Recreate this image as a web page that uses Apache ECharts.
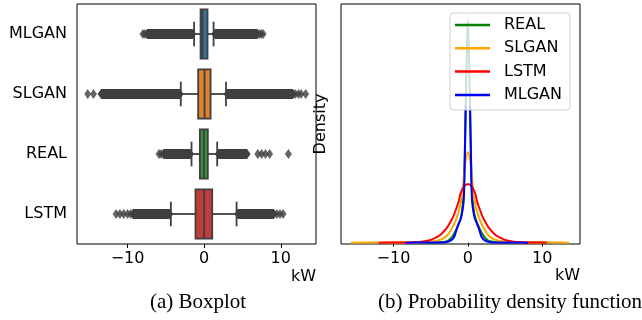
<!DOCTYPE html>
<html>
<head>
<meta charset="utf-8">
<script src="https://cdn.jsdelivr.net/npm/echarts@6/dist/echarts.min.js"></script>
<style>
  html, body { margin: 0; padding: 0; background: #fff; }
  #chart { width: 642px; height: 320px; }
</style>
</head>
<body>
<div id="chart"></div>
<script>
// ---- Boxplot data (kW) ----
const categories = ['MLGAN', 'SLGAN', 'REAL', 'LSTM'];
// [whisker low, Q1, median, Q3, whisker high]
const statsMLGAN = [-1.31, -0.47, -0.22, 0.44, 1.23];
const statsSLGAN = [-3.05, -0.78, 0.05, 0.84, 2.85];
const statsREAL  = [-1.65, -0.56, -0.04, 0.48, 1.70];
const statsLSTM  = [-4.35, -1.13, 0.00, 1.05, 4.23];
// Runs of densely packed outliers [from, to]
const runsMLGAN = [[-7.45, -1.5], [1.4, 6.95]];
const runsSLGAN = [[-13.45, -3.15], [3.0, 11.6]];
const runsREAL  = [[-5.3, -1.8], [1.85, 5.6]];
const runsLSTM  = [[-9.3, -4.5], [4.4, 9.1]];
// Isolated outliers
const fliersMLGAN = [-8.0, -7.75, 7.2, 7.45, 7.7];
const fliersSLGAN = [-15.2, -14.45, 11.9, 12.3, 12.65, 13.25];
const fliersREAL  = [-5.9, -5.6, 7.0, 7.5, 8.0, 8.55, 11.0];
const fliersLSTM  = [-11.5, -11.0, -10.5, -10.0, -9.6, 9.5, 9.9, 10.3];

// ---- Density curves (kW, density) ----
const realX = [-6.4, -5, -4, -3, -2.5, -2, -1.6, -1.2, -0.9, -0.6, -0.45, -0.3, -0.15, 0, 0.15, 0.3, 0.45, 0.6, 0.9, 1.2, 1.6, 2, 2.5, 3, 4, 5, 7, 9, 11.2];
const realY = [0, 0.0003, 0.001, 0.004, 0.012, 0.03, 0.055, 0.085, 0.115, 0.2, 0.34, 0.58, 0.82, 0.97, 0.82, 0.58, 0.34, 0.2, 0.12, 0.09, 0.06, 0.035, 0.015, 0.006, 0.0015, 0.0005, 0.0003, 0.0002, 0];
const slganX = [-15.7, -12, -9, -7, -5, -4, -3.2, -2.6, -2.1, -1.6, -1.2, -0.9, -0.6, -0.3, 0, 0.3, 0.6, 0.9, 1.2, 1.6, 2.1, 2.6, 3.2, 4, 5, 7, 9, 12, 13.6];
const slganY = [0, 0.0002, 0.0006, 0.0015, 0.005, 0.01, 0.02, 0.038, 0.066, 0.1, 0.14, 0.184, 0.27, 0.36, 0.396, 0.36, 0.27, 0.184, 0.14, 0.1, 0.066, 0.038, 0.02, 0.01, 0.005, 0.0015, 0.0006, 0.0002, 0];
const lstmX = [-12, -9, -7, -6, -5, -4, -3.5, -2.8, -2.5, -2, -1.5, -1.2, -1, -0.5, 0, 0.5, 1, 1.2, 1.5, 2, 2.5, 2.8, 3.5, 4, 5, 6, 7, 9, 10.6];
const lstmY = [0, 0.0005, 0.002, 0.005, 0.012, 0.027, 0.04, 0.066, 0.082, 0.112, 0.155, 0.184, 0.215, 0.246, 0.257, 0.246, 0.215, 0.184, 0.155, 0.112, 0.082, 0.066, 0.04, 0.027, 0.012, 0.005, 0.002, 0.0005, 0];
const mlganX = [-8.4, -6, -4, -3, -2.5, -2.1, -1.8, -1.47, -1.2, -1, -0.8, -0.56, -0.45, -0.3, -0.15, 0, 0.15, 0.3, 0.45, 0.56, 0.8, 1, 1.2, 1.47, 1.8, 2.1, 2.5, 3, 4, 6, 8.1];
const mlganY = [0, 0.0002, 0.0006, 0.002, 0.006, 0.014, 0.028, 0.062, 0.085, 0.1, 0.125, 0.184, 0.3, 0.58, 0.84, 1.0, 0.84, 0.58, 0.3, 0.184, 0.125, 0.1, 0.085, 0.062, 0.028, 0.014, 0.006, 0.002, 0.0006, 0.0002, 0];

const xTicks = [-10, 0, 10];

// ---- Styling ----
const boxFill = ['#3274a1', '#e1812c', '#3a923a', '#c03d3e'];
const kdeColors = { REAL: '#008000', SLGAN: '#ffa500', LSTM: '#ff0000', MLGAN: '#0000ff' };
const ink = '#3f3f3f';
const FONT = 'DejaVu Sans';

const allStats = [statsMLGAN, statsSLGAN, statsREAL, statsLSTM];
const allRuns = [runsMLGAN, runsSLGAN, runsREAL, runsLSTM];
const allFliers = [fliersMLGAN, fliersSLGAN, fliersREAL, fliersLSTM];

const boxData = allStats.map((s, i) => [i].concat(s));
const runData = [];
allRuns.forEach((runs, i) => runs.forEach(r => runData.push([i, r[0], r[1]])));
const flierData = [];
allFliers.forEach((f, i) => f.forEach(v => flierData.push([v, i])));

const pairs = (xs, ys) => xs.map((x, i) => [x, ys[i]]);
const minusFmt = v => String(v).replace('-', '\u2212');

function renderBox(params, api) {
  const cat = api.value(0);
  const lo = api.coord([api.value(1), cat]);
  const q1 = api.coord([api.value(2), cat]);
  const md = api.coord([api.value(3), cat]);
  const q3 = api.coord([api.value(4), cat]);
  const hi = api.coord([api.value(5), cat]);
  const band = api.size([0, 1])[1];
  const h = band * 0.41;
  const cap = h / 2;
  const cy = md[1];
  const ls = { stroke: ink, lineWidth: 1.8 };
  return {
    type: 'group',
    children: [
      { type: 'line', shape: { x1: lo[0], y1: cy, x2: q1[0], y2: cy }, style: ls },
      { type: 'line', shape: { x1: q3[0], y1: cy, x2: hi[0], y2: cy }, style: ls },
      { type: 'line', shape: { x1: lo[0], y1: cy - cap, x2: lo[0], y2: cy + cap }, style: ls },
      { type: 'line', shape: { x1: hi[0], y1: cy - cap, x2: hi[0], y2: cy + cap }, style: ls },
      { type: 'rect', shape: { x: q1[0], y: cy - h, width: q3[0] - q1[0], height: 2 * h },
        style: { fill: boxFill[params.dataIndex], stroke: ink, lineWidth: 1.8 } },
      { type: 'line', shape: { x1: md[0], y1: cy - h, x2: md[0], y2: cy + h }, style: ls }
    ]
  };
}

function renderRun(params, api) {
  const cat = api.value(0);
  const a = api.coord([api.value(1), cat]);
  const b = api.coord([api.value(2), cat]);
  const cy = a[1], hh = 5, tip = 3.5;
  return {
    type: 'polygon',
    shape: { points: [[a[0] - tip, cy], [a[0], cy - hh], [b[0], cy - hh], [b[0] + tip, cy], [b[0], cy + hh], [a[0], cy + hh]] },
    style: { fill: ink }
  };
}

const kdeSeries = (name, xs, ys, color) => ({
  name, type: 'line', xAxisIndex: 1, yAxisIndex: 1,
  data: pairs(xs, ys), showSymbol: false, symbol: 'none', smooth: 0.3,
  lineStyle: { color: color || kdeColors[name], width: 2 }, itemStyle: { color: kdeColors[name] },
  silent: true
});

// The very tip of the sharpest peak fades out (its two flanks merge into a faint band)
const mlganStroke = new echarts.graphic.LinearGradient(0, 0, 0, 1, [
  { offset: 0, color: 'rgba(0,0,255,0.2)' },
  { offset: 0.4, color: 'rgba(0,0,255,0.2)' },
  { offset: 0.4, color: '#0000ff' },
  { offset: 1, color: '#0000ff' }
]);

const axisText = { fontFamily: FONT, fontSize: 16, color: '#000' };
const captionText = { fontFamily: 'Liberation Serif', fontSize: 21, fontWeight: 'normal', color: '#000' };

const chart = echarts.init(document.getElementById('chart'), null, { renderer: 'canvas' });
chart.setOption({
  animation: false,
  backgroundColor: '#fff',
  textStyle: { fontFamily: FONT },
  title: [
    { text: '(a) Boxplot', left: 193, top: 287, textAlign: 'center', textStyle: captionText },
    { text: '(b) Probability density function', left: 505, top: 287, textAlign: 'center', textStyle: captionText }
  ],
  grid: [
    { left: 77, right: 326, top: 4, bottom: 76, show: true, borderColor: '#000', borderWidth: 1, backgroundColor: '#fff' },
    { left: 341, right: 62, top: 4, bottom: 76, show: true, borderColor: '#000', borderWidth: 1, backgroundColor: '#fff' }
  ],
  xAxis: [
    { type: 'value', gridIndex: 0, min: -16.6, max: 14.6,
      axisLine: { show: false }, splitLine: { show: false },
      axisTick: { show: true, length: 4, lineStyle: { color: '#000' }, customValues: xTicks },
      axisLabel: Object.assign({ margin: 7, customValues: xTicks, formatter: minusFmt }, axisText),
      name: 'kW', nameLocation: 'end', nameGap: 0,
      nameTextStyle: Object.assign({ align: 'right', verticalAlign: 'top', padding: [25, 0, 0, 0] }, axisText) },
    { type: 'value', gridIndex: 1, min: -17.05, max: 15.07,
      axisLine: { show: false }, splitLine: { show: false },
      axisTick: { show: true, length: 4, lineStyle: { color: '#000' }, customValues: xTicks },
      axisLabel: Object.assign({ margin: 7, customValues: xTicks, formatter: minusFmt }, axisText),
      name: 'kW', nameLocation: 'end', nameGap: 0,
      nameTextStyle: Object.assign({ align: 'right', verticalAlign: 'top', padding: [25, 0, 0, 0] }, axisText) }
  ],
  yAxis: [
    { type: 'category', gridIndex: 0, data: categories, inverse: true,
      axisLine: { show: false }, splitLine: { show: false },
      axisTick: { show: true, length: 4, alignWithLabel: true, lineStyle: { color: '#000' } },
      axisLabel: Object.assign({ margin: 10 }, axisText) },
    { type: 'value', gridIndex: 1, min: -0.006, max: 1.045,
      axisLine: { show: false }, splitLine: { show: false }, axisTick: { show: false }, axisLabel: { show: false },
      name: 'Density', nameLocation: 'middle', nameGap: 12, nameTextStyle: axisText }
  ],
  legend: {
    data: ['REAL', 'SLGAN', 'LSTM', 'MLGAN'],
    orient: 'vertical', left: 450, top: 13,
    padding: [4, 8, 7, 5],
    itemWidth: 35, itemHeight: 2.5, itemGap: 7.3, icon: 'rect',
    backgroundColor: 'rgba(255,255,255,0.8)', borderColor: '#d0d0d0', borderWidth: 1, borderRadius: 3,
    selectedMode: false,
    textStyle: { fontFamily: FONT, fontSize: 16, color: '#000', lineHeight: 16, padding: [0, 0, 0, 9] }
  },
  series: [
    { type: 'custom', xAxisIndex: 0, yAxisIndex: 0, data: boxData, renderItem: renderBox,
      encode: { x: [1, 2, 3, 4, 5], y: 0 }, silent: true, z: 3 },
    { type: 'custom', xAxisIndex: 0, yAxisIndex: 0, data: runData, renderItem: renderRun,
      encode: { x: [1, 2], y: 0 }, silent: true, z: 2 },
    { type: 'scatter', xAxisIndex: 0, yAxisIndex: 0, data: flierData, symbol: 'diamond', symbolSize: [7, 10],
      itemStyle: { color: ink }, silent: true, z: 2 },
    kdeSeries('REAL', realX, realY),
    kdeSeries('SLGAN', slganX, slganY),
    kdeSeries('LSTM', lstmX, lstmY),
    kdeSeries('MLGAN', mlganX, mlganY, mlganStroke)
  ]
});
</script>
</body>
</html>
